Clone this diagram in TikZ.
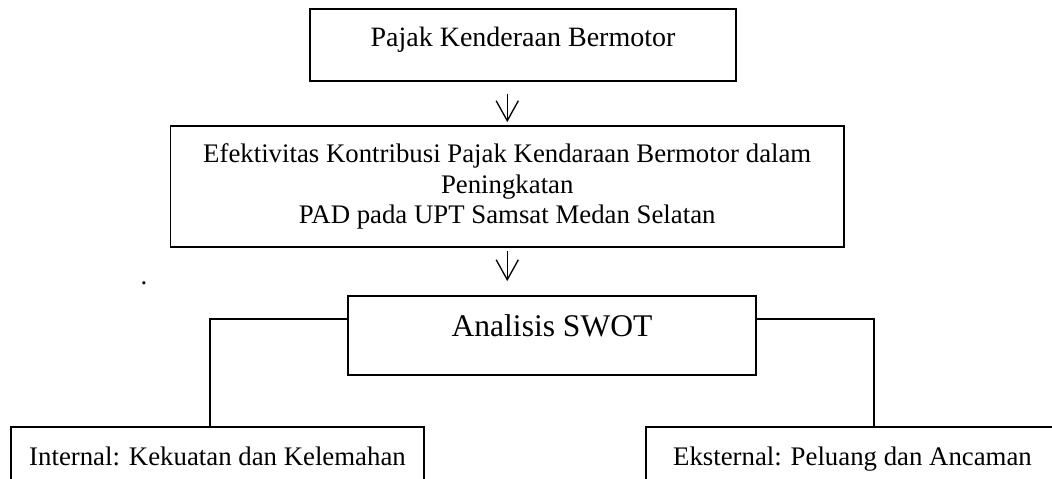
\documentclass[tikz,border=0pt]{standalone}
\usepackage{fontspec}
\setmainfont{Liberation Serif}
\usetikzlibrary{arrows.meta}
\begin{document}
\begin{tikzpicture}[x=0.45pt,y=-0.45pt,
  box/.style={draw, line width=0.8pt, inner sep=0pt, align=center, font=\fontsize{12.06}{13.7}\selectfont},
  link/.style={line width=0.8pt},
  arr/.style={line width=0.6pt, -{Straight Barb[length=9pt,width=10pt]}}]
\clip (0,0) rectangle (1052,479);
% Boxes
\node[box, minimum width=191.7pt, minimum height=32.4pt, font=\fontsize{12.6}{15}\selectfont, text height=8.6pt, text depth=6.8pt] (pkb) at (523,45) {Pajak Kenderaan Bermotor};
\node[box, minimum width=303.1pt, minimum height=54.45pt] (efk) at (507.25,186.5) {Efektivitas Kontribusi Pajak Kendaraan Bermotor dalam\\ Peningkatan\\ PAD pada UPT Samsat Medan Selatan};
\node[box, minimum width=183.6pt, minimum height=35.55pt, font=\fontsize{14.2}{16}\selectfont, text height=9.7pt, text depth=8.35pt] (swot) at (552,335.5) {Analisis SWOT};
\node[box, minimum width=185.85pt, minimum height=28.8pt, text height=8.2pt, text depth=2.6pt] (intl) at (217.5,459) {Internal: Kekuatan dan Kelemahan};
\node[box, minimum width=185.85pt, minimum height=28.8pt, text height=8.2pt, text depth=2.6pt] (extl) at (852.5,459) {Eksternal: Peluang dan Ancaman};
\node[inner sep=0pt, anchor=base, font=\fontsize{12.06}{13.7}\selectfont] (titik) at (144,285) {.};
% Arrows
\draw[arr, shorten <=5.4pt, shorten >=1.35pt] (efk.north |- pkb.south) -- (efk.north);
\draw[arr, shorten <=1.35pt, shorten >=6.3pt] (efk.south) -- (efk.south |- swot.north);
% Branches
\coordinate (kiri) at (210,319);
\coordinate (kanan) at (874,319);
\draw[link] (swot.west |- kiri) -- (kiri) -- (kiri |- intl.north);
\draw[link] (swot.east |- kanan) -- (kanan) -- (kanan |- extl.north);
\end{tikzpicture}
\end{document}
